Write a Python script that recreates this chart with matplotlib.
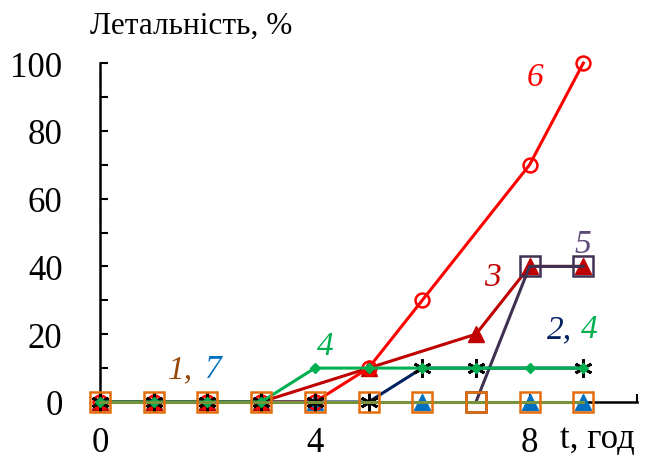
import matplotlib.pyplot as plt
import numpy as np
from matplotlib.ticker import MultipleLocator, FixedLocator

plt.rcParams['font.family'] = ['Liberation Serif', 'DejaVu Serif']

# дані кривих (t, год -> летальність, %)
x1 = [0, 1, 2, 3, 4, 5, 6, 7, 8, 9]
y1 = [0, 0, 0, 0, 0, 0, 0, 0, 0, 0]
x2 = [0, 1, 2, 3, 4, 5, 6, 7, 9]
y2 = [0, 0, 0, 0, 0, 0, 10, 10, 10]
x3 = [0, 1, 2, 3, 5, 7, 8, 9]
y3 = [0, 0, 0, 0, 10, 20, 40, 40]
x4 = [0, 1, 2, 3, 4, 5, 6, 7, 8, 9]
y4 = [0, 0, 0, 0, 10, 10, 10, 10, 10, 10]
x5 = [7, 8, 9]
y5 = [0, 40, 40]
x6 = [0, 1, 2, 3, 4, 5, 6, 8, 9]
y6 = [0, 0, 0, 0, 0, 10, 30, 70, 100]
x7 = [0, 1, 2, 3, 4, 6, 8, 9]
y7 = [0, 0, 0, 0, 0, 0, 0, 0]

fig = plt.figure(figsize=(6.47, 4.64), dpi=100)
ax = fig.add_axes([0.1546, 0.1315, 0.83, 0.7305])

lw = 2.2
ax.plot(x7, y7, color='#0070C0', lw=0, marker='^', ms=11, zorder=3, clip_on=False)
ax.plot(x3, y3, color='#C00000', lw=lw, marker='^', ms=11, zorder=4, clip_on=False)
ax.plot(x6, y6, color='#FF0000', lw=lw, marker='o', ms=10, mfc='none', mew=1.8, zorder=5, clip_on=False)
ax.plot(x5, y5, color='#403152', lw=lw, marker='s', ms=14.5, mfc='none', mew=1.8, zorder=6, clip_on=False)
ax.plot(x2, y2, color='#002060', lw=lw, marker=(6, 2, 0), ms=13, mec='black', mew=2, zorder=7, clip_on=False)
ax.plot(x4, y4, color='#00B050', lw=lw, marker='D', ms=5, zorder=8, clip_on=False)
ax.plot(x1, y1, color='#77933C', lw=lw, marker='s', ms=14.5, mfc='none', mec='#E46C0A', mew=1.8, zorder=9, clip_on=False)

ax.set_xlim(0, 10)
ax.set_ylim(0, 100)

for s in ['top', 'right']:
    ax.spines[s].set_visible(False)
for s in ['left', 'bottom']:
    ax.spines[s].set_linewidth(1.8)

ax.yaxis.set_major_locator(MultipleLocator(20))
ax.yaxis.set_minor_locator(MultipleLocator(10))
ax.xaxis.set_major_locator(FixedLocator([0, 4, 8]))
ax.xaxis.set_minor_locator(FixedLocator([10]))
ax.tick_params(axis='y', which='both', direction='in', length=6, width=1.5, pad=27, labelsize=25)
ax.tick_params(axis='x', which='both', direction='in', length=6, width=1.5, pad=17, labelsize=25)

# підписи кривих
lab = dict(fontsize=24, style='italic')
ax.text(8.1, 95.9, '6', color='#FF0000', ha='center', va='center', **lab)
ax.text(9.0, 46.6, '5', color='#5F497A', ha='center', va='center', **lab)
ax.text(7.3, 36.9, '3', color='#C00000', ha='center', va='center', **lab)
ax.text(8.55, 21.5, '2,', color='#002060', ha='center', va='center', **lab)
ax.text(9.12, 21.5, '4', color='#00B050', ha='center', va='center', **lab)
ax.text(4.2, 16.5, '4', color='#00B050', ha='center', va='center', **lab)
ax.text(1.5, 9.7, '1,', color='#984807', ha='center', va='center', **lab)
ax.text(2.1, 9.7, '7', color='#0070C0', ha='center', va='center', **lab)

fig.text(90 / 647, 1 - 26 / 464, 'Летальність, %', fontsize=22.5, ha='left', va='center')
fig.text(560 / 647, 1 - 440 / 464, 't, год', fontsize=25, ha='left', va='center')

fig.savefig('out.png', dpi=100)
